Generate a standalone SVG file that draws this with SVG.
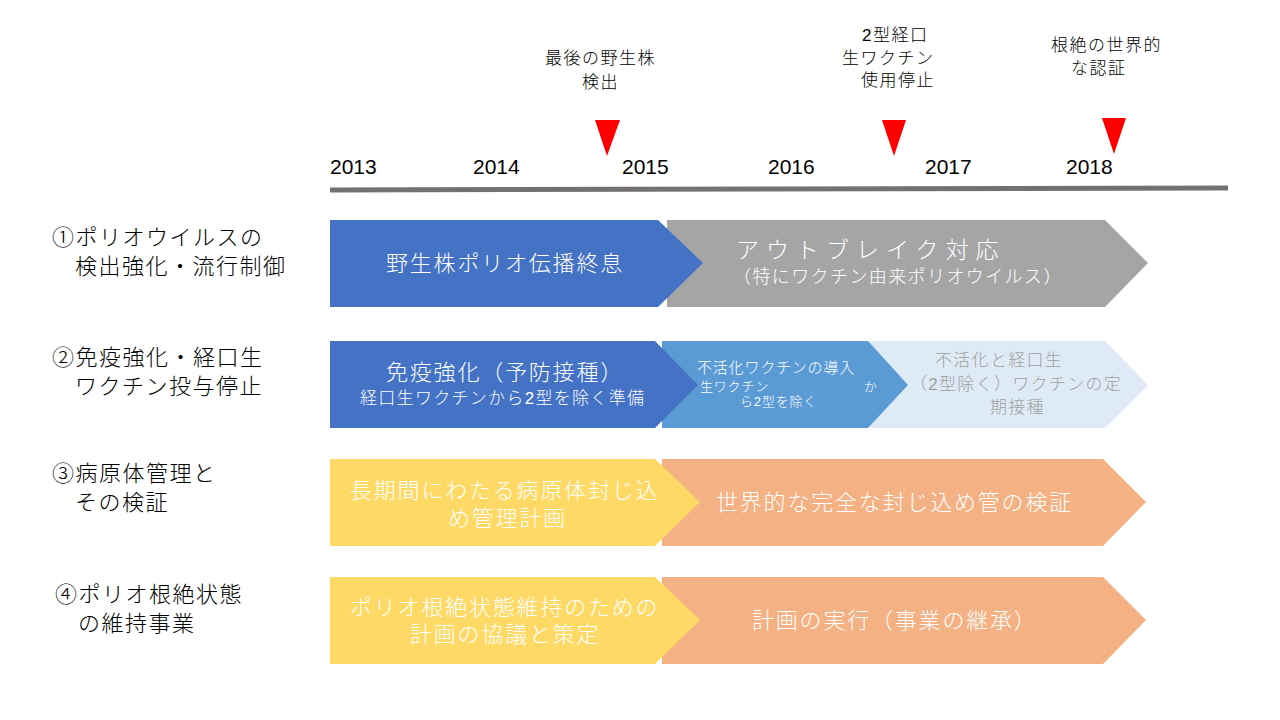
<svg xmlns="http://www.w3.org/2000/svg" width="1280" height="720" viewBox="0 0 1280 720">
<style>
text{font-family:"Liberation Sans","Noto Sans CJK JP",sans-serif;font-weight:300;}
.lbl{font-size:22px;fill:#000;letter-spacing:1.5px;}
.ann{font-size:17px;fill:#000;letter-spacing:1.5px;}
.yr{font-family:"Liberation Sans",Arial,sans-serif;font-size:21px;fill:#000;font-weight:400;}
.w{fill:#fff;}
.big{font-size:22px;letter-spacing:1.8px;}
.tri{fill:#ff0000;}
.blue{fill:#4472C4;}
.gray{fill:#A5A5A5;}
.mid{fill:#5B9BD5;}
.light{fill:#DEEBF7;}
.yel{fill:#FFD966;}
.org{fill:#F4B183;}
</style>
<rect width="1280" height="720" fill="#fff"/>
<g id="timeline">
<line x1="330" y1="190" x2="1228" y2="188" stroke="#767171" stroke-width="5"/>
<text class="yr" x="330" y="174">2013</text>
<text class="yr" x="473" y="174">2014</text>
<text class="yr" x="622" y="174">2015</text>
<text class="yr" x="768" y="174">2016</text>
<text class="yr" x="925" y="174">2017</text>
<text class="yr" x="1066" y="174">2018</text>
</g>
<g id="milestone1">
<polygon class="tri" points="595,120 620,120 607,156"/>
<text class="ann" x="545" y="64">最後の野生株</text>
<text class="ann" x="582" y="88">検出</text>
</g>
<g id="milestone2">
<polygon class="tri" points="882,120 906,120 894,156"/>
<text class="ann" x="862" y="41">2型経口</text>
<text class="ann" x="842" y="64">生ワクチン</text>
<text class="ann" x="861" y="86">使用停止</text>
</g>
<g id="milestone3">
<polygon class="tri" points="1102,118 1126,118 1114,154"/>
<text class="ann" x="1051" y="51">根絶の世界的</text>
<text class="ann" x="1071" y="74">な認証</text>
</g>
<g id="label1">
<text class="lbl" x="52" y="245">①ポリオウイルスの</text>
<text class="lbl" x="75" y="274">検出強化・流行制御</text>
</g>
<g id="label2">
<text class="lbl" x="52" y="365">②免疫強化・経口生</text>
<text class="lbl" x="75" y="394">ワクチン投与停止</text>
</g>
<g id="label3">
<text class="lbl" x="52" y="481">③病原体管理と</text>
<text class="lbl" x="75" y="510">その検証</text>
</g>
<g id="label4">
<text class="lbl" x="55" y="602">④ポリオ根絶状態</text>
<text class="lbl" x="78" y="631">の維持事業</text>
</g>
<g id="row1-outbreak">
<polygon class="gray" points="667,220 1105,220 1148,263 1105,307 667,307"/>
<text class="w" x="736" y="258" style="font-size:23px;letter-spacing:7px">アウトブレイク対応</text>
<text class="w" x="733" y="283" style="font-size:18px;letter-spacing:1.4px">（特にワクチン由来ポリオウイルス）</text>
</g>
<g id="row1-wild">
<polygon class="blue" points="330,220 658,220 703,263 658,307 330,307"/>
<text class="w big" x="386" y="271">野生株ポリオ伝播終息</text>
</g>
<g id="row2-routine">
<polygon class="light" points="870,341 1105,341 1148,385 1105,428 870,428"/>
<text x="935" y="366" style="font-size:17px;fill:#A0A0A0;letter-spacing:1.3px">不活化と経口生</text>
<text x="910" y="390" style="font-size:17px;fill:#A0A0A0;letter-spacing:1.3px">（2型除く）ワクチンの定</text>
<text x="990" y="413" style="font-size:17px;fill:#A0A0A0;letter-spacing:1.3px">期接種</text>
</g>
<g id="row2-ipv">
<polygon class="mid" points="662,341 868,341 908,385 868,428 662,428"/>
<text class="w" x="697" y="373" style="font-size:15px;letter-spacing:0.8px">不活化ワクチンの導入</text>
<text class="w" x="700" y="391" style="font-size:13px;letter-spacing:0.8px">生ワクチン</text>
<text class="w" x="864" y="391" style="font-size:13px">か</text>
<text class="w" x="740" y="406" style="font-size:13px;letter-spacing:0.8px">ら2型を除く</text>
</g>
<g id="row2-immun">
<polygon class="blue" points="330,341 655,341 698,385 655,428 330,428"/>
<text class="w big" x="386" y="380">免疫強化（予防接種）</text>
<text class="w" x="360" y="404" style="font-size:17px;letter-spacing:1.3px">経口生ワクチンから2型を除く準備</text>
</g>
<g id="row3-verify">
<polygon class="org" points="662,459 1103,459 1146,502 1103,546 662,546"/>
<text class="w big" x="716" y="510">世界的な完全な封じ込め管の検証</text>
</g>
<g id="row3-plan">
<polygon class="yel" points="330,459 655,459 700,502 655,546 330,546"/>
<text class="w big" x="350" y="498">長期間にわたる病原体封じ込</text>
<text class="w big" x="448" y="526">め管理計画</text>
</g>
<g id="row4-exec">
<polygon class="org" points="662,577 1103,577 1146,620 1103,664 662,664"/>
<text class="w big" x="752" y="628">計画の実行（事業の継承）</text>
</g>
<g id="row4-plan">
<polygon class="yel" points="330,577 655,577 700,620 655,664 330,664"/>
<text class="w big" x="350" y="615">ポリオ根絶状態維持のための</text>
<text class="w big" x="410" y="642">計画の協議と策定</text>
</g>
</svg>
